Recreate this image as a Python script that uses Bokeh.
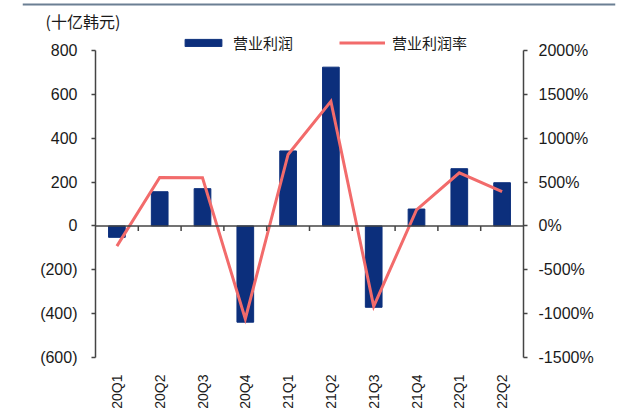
from math import pi
from bokeh.plotting import figure
from bokeh.layouts import column
from bokeh.models import (Range1d, LinearAxis, FixedTicker, Legend, LegendItem, Span, Label)
from bokeh.embed import file_html
from bokeh.resources import INLINE

# ---- data ----
quarters = ["20Q1", "20Q2", "20Q3", "20Q4", "21Q1", "21Q2", "21Q3", "21Q4", "22Q1", "22Q2"]
op_profit = [-52, 156, 170, -439, 342, 724, -371, 77, 261, 197]          # 十亿韩元
op_margin = [-230, 553, 548, -1060, 815, 1420, -917, 182, 606, 390]     # %
left_ticks = [-600, -400, -200, 0, 200, 400, 600, 800]
right_ticks = [-1500, -1000, -500, 0, 500, 1000, 1500, 2000]
unit_label = "(十亿韩元)"
series_names = ["营业利润", "营业利润率"]

BAR = "#0c2f7c"
LINE = "#f26b6b"
AX = "#444444"
TXT = "#1a1a1a"
RULE = "#6b7f93"
NUMFONT = "Liberation Sans"
CJK = "Noto Sans CJK SC"

W = 632
HEADER_H = 33
AXIS_PX = 307          # pixel height between lowest and highest tick
TOP_PAD_PX = 17        # space in frame above the highest tick (legend sits here)
BOTTOM_PX = 55
n = len(quarters)
centers = [i + 0.5 for i in range(n)]
bounds = [i for i in range(1, n)]
l_per_px = (left_ticks[-1] - left_ticks[0]) / AXIS_PX
r_per_px = (right_ticks[-1] - right_ticks[0]) / AXIS_PX

# ---- header: rule line and unit label ----
hdr = figure(width=W, height=HEADER_H, output_backend="svg", toolbar_location=None,
             x_range=Range1d(0, W - 39), y_range=Range1d(0, HEADER_H),
             min_border_left=22, min_border_right=17, min_border_top=0, min_border_bottom=0,
             x_axis_location=None, y_axis_location=None)
hdr.frame_align = False
hdr.outline_line_color = None
hdr.xgrid.visible = False
hdr.ygrid.visible = False
hdr.add_layout(Span(location=HEADER_H - 4, dimension="width", line_color=RULE, line_width=2))
hdr.add_layout(Label(x=23, y=1, text=unit_label, text_font=CJK,
                     text_font_size="16px", text_color=TXT, text_baseline="bottom"))

# ---- main chart ----
p = figure(width=W, height=AXIS_PX + TOP_PAD_PX + BOTTOM_PX, output_backend="svg",
           toolbar_location=None,
           x_range=Range1d(0, n),
           y_range=Range1d(left_ticks[0], left_ticks[-1] + TOP_PAD_PX * l_per_px),
           min_border_left=95, min_border_right=109, min_border_top=0,
           min_border_bottom=BOTTOM_PX,
           x_axis_location=None, y_axis_location=None)
p.frame_align = False
p.outline_line_color = None
p.xgrid.visible = False
p.ygrid.visible = False
p.extra_y_ranges = {"pct": Range1d(right_ticks[0], right_ticks[-1] + TOP_PAD_PX * r_per_px)}

bars = p.vbar(x=centers, top=op_profit, bottom=0, width=0.39, color=BAR)
line = p.line(x=centers, y=op_margin, y_range_name="pct", color=LINE,
              line_width=3, line_join="miter")

# zero line with ticks between categories
p.add_layout(Span(location=0, dimension="width", line_color=AX, line_width=1.5))
p.segment(x0=bounds, x1=bounds, y0=[0] * len(bounds), y1=[-5 * l_per_px] * len(bounds),
          line_color=AX, line_width=1.5)

la = LinearAxis(ticker=FixedTicker(ticks=left_ticks), bounds=(left_ticks[0], left_ticks[-1]),
                major_label_overrides={v: (f"({abs(v)})" if v < 0 else str(v)) for v in left_ticks})
ra = LinearAxis(y_range_name="pct", ticker=FixedTicker(ticks=right_ticks),
                bounds=(right_ticks[0], right_ticks[-1]),
                major_label_overrides={v: f"{v}%" for v in right_ticks})
for ax, so in ((la, 14), (ra, 11)):
    ax.axis_line_color = AX
    ax.axis_line_width = 1.5
    ax.major_tick_line_color = AX
    ax.major_tick_line_width = 1.5
    ax.major_tick_in = 0
    ax.major_tick_out = 4
    ax.minor_tick_line_color = None
    ax.major_label_text_font = NUMFONT
    ax.major_label_text_font_size = "16px"
    ax.major_label_text_color = TXT
    ax.major_label_standoff = so
p.add_layout(la, "left")
p.add_layout(ra, "right")

xa = LinearAxis(ticker=FixedTicker(ticks=centers),
                major_label_overrides={c: q for c, q in zip(centers, quarters)})
xa.axis_line_color = None
xa.major_tick_line_color = None
xa.minor_tick_line_color = None
xa.major_label_orientation = pi / 2
xa.major_label_standoff = 11
xa.major_label_text_font = NUMFONT
xa.major_label_text_font_size = "14px"
xa.major_label_text_color = TXT
p.add_layout(xa, "below")

legend = Legend(items=[LegendItem(label=series_names[0], renderers=[bars]),
                       LegendItem(label=series_names[1], renderers=[line])],
                location=(85, AXIS_PX - 3), orientation="horizontal",
                glyph_width=46, glyph_height=9, label_standoff=7, spacing=46,
                padding=0, margin=0, border_line_color=None, background_fill_alpha=0,
                label_text_font=CJK, label_text_font_size="15px", label_text_color=TXT)
p.add_layout(legend)

layout = column(hdr, p, spacing=0)
open("out.html", "w").write(file_html(layout, INLINE))
